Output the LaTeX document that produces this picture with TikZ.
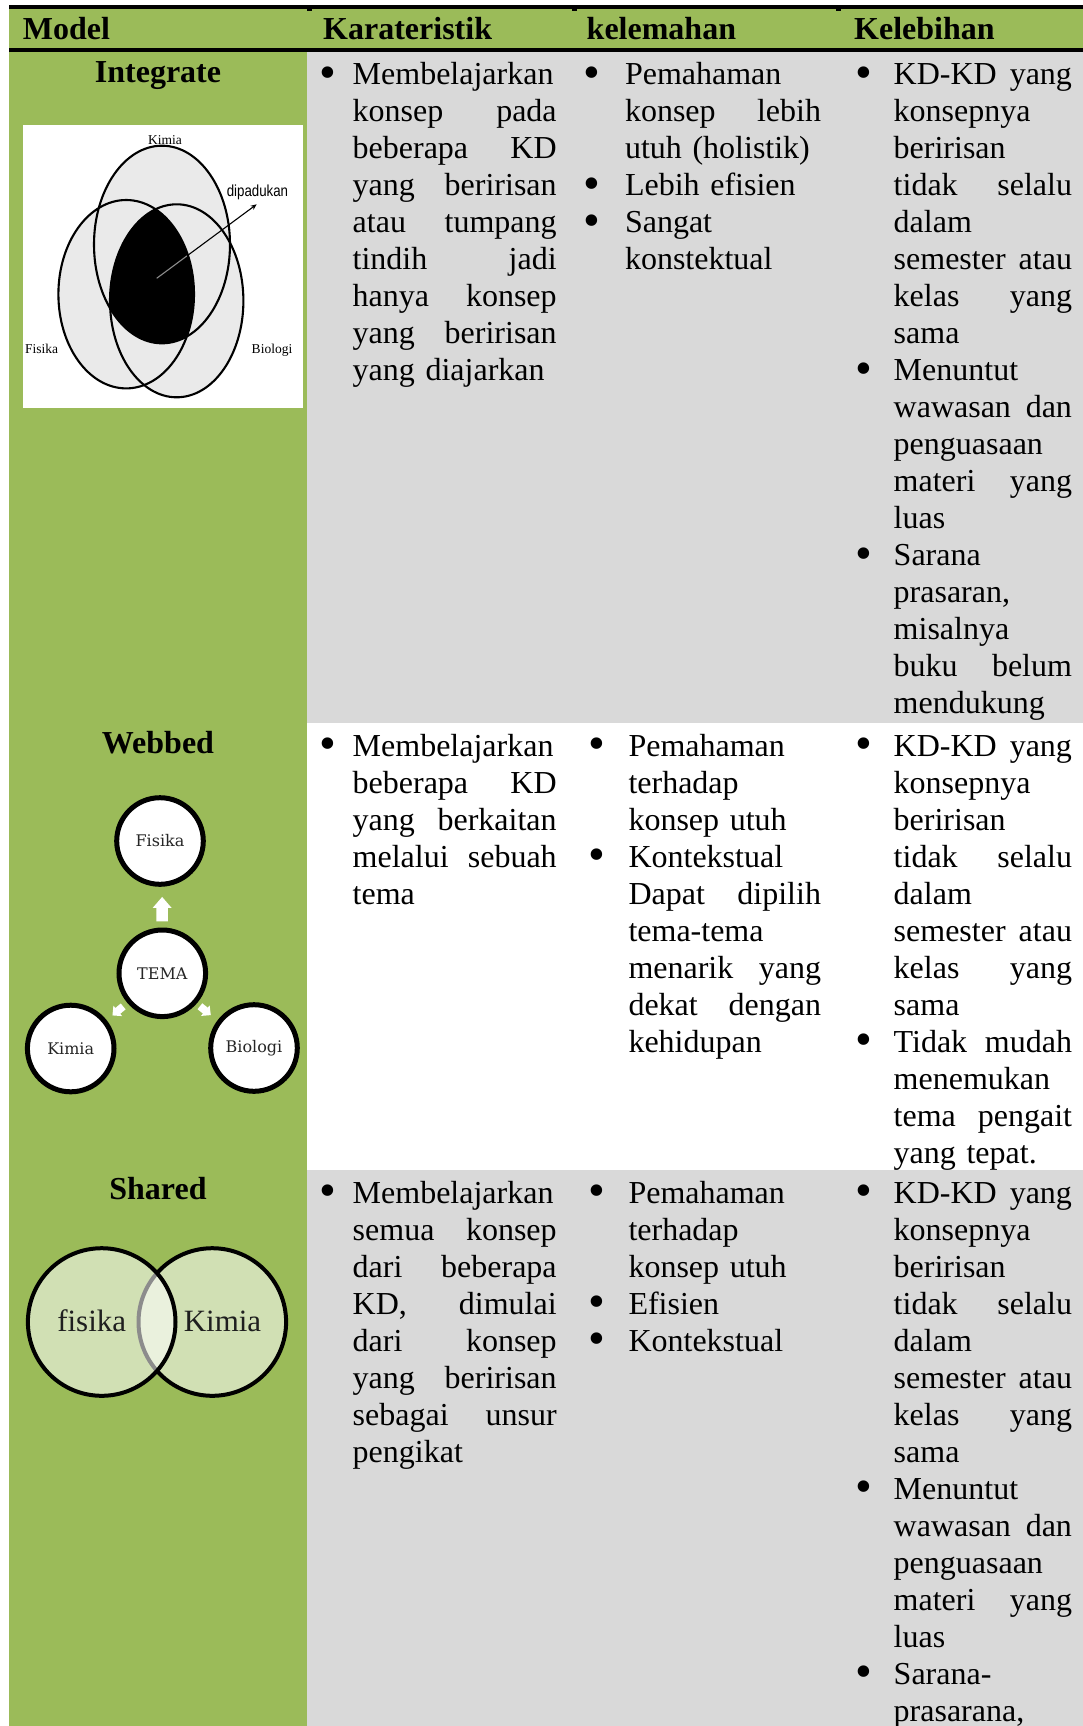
\documentclass[tikz,border=0pt]{standalone}
\usepackage{fontspec}
\usepackage{graphicx}
\setmainfont{Liberation Serif}
\newfontfamily\slabfont{DejaVu Serif}
\newfontfamily\narrowsans{Liberation Sans}
\usetikzlibrary{calc,arrows.meta}
\definecolor{tgreen}{HTML}{9BBB59}
\definecolor{tgrey}{HTML}{D9D9D9}
\definecolor{vgrey}{HTML}{EAEAEA}
\newlength{\cw}
\newcommand\J[1]{\leavevmode\hbox to \cw{#1}}
\newcommand\bulletglyph{\smash{\raisebox{-3.5pt}{\scalebox{4.8}{\textbullet}}}}
\setlength{\parindent}{0pt}
\begin{document}
\begin{tikzpicture}[x=1pt,y=-1pt,
  body/.style={font=\fontsize{32}{37}\selectfont},
  cell/.style={body,anchor=north west,inner sep=0pt,outer sep=0pt,align=left,
    text width=#1,execute at begin node={\setlength{\cw}{#1}}},
  hdr/.style={anchor=base west,inner sep=0pt,font=\fontsize{32}{37}\selectfont\bfseries},
  ttl/.style={anchor=base,inner sep=0pt,font=\fontsize{32}{37}\selectfont\bfseries},
  bul/.style={font=\fontsize{10}{10}\selectfont,anchor=base,inner sep=0pt},
  vlab/.style={anchor=base,inner sep=0pt,font=\fontsize{13.5}{15}\selectfont},
  wcirc/.style={circle,draw=black,line width=5pt,fill=white,minimum size=86.6pt,inner sep=0pt,
    font=\slabfont\fontsize{16}{18}\selectfont,text=black!85},
  vline/.style={line width=2.1pt},
  bigarrow/.pic={\fill[white] (-12.2,-5.7) -- (1.2,-5.7) -- (1.2,-9.5) -- (12.2,0) -- (1.2,9.5) -- (1.2,5.7) -- (-12.2,5.7) -- cycle;},
  smallarrow/.pic={\fill[white] (-7,-3.8) -- (0,-3.8) -- (0,-6.8) -- (7,0) -- (0,6.8) -- (0,3.8) -- (-7,3.8) -- cycle;}
]
\useasboundingbox (0,0) rectangle (1083,1726);
\fill[white] (0,0) rectangle (1083,1726);
% header
\fill[black] (9,5) rectangle (1083,9.5);
\fill[tgreen] (9,9.5) rectangle (1083,47.7);
\fill[black] (9,47.7) rectangle (1083,52.3);
\foreach \tx in {306.7,571.7,836}{
  \fill[black] (\tx,9) rectangle ({\tx+5},11.5);
  \fill[black] (\tx,52) rectangle ({\tx+5},53.5);
}
% row backgrounds
\fill[tgreen] (9,52.3) rectangle (306.7,1726);
\fill[tgrey] (306.7,52.3) rectangle (1083,722.7);
\fill[tgrey] (306.7,1170) rectangle (1083,1726);
% header texts
\node[hdr] (hModel) at (22.7,40) {Model};
\node[hdr] (hKar) at (323,40) {Karateristik};
\node[hdr] (hKel) at (586.5,40) {kelemahan};
\node[hdr] (hLeb) at (854,40) {Kelebihan};
% titles
\node[ttl] (tInt) at (158,82.5) {Integrate};
\node[ttl] (tWeb) at (158,753.5) {Webbed};
\node[ttl] (tSha) at (158,1199.5) {Shared};

% ---------- Integrate venn ----------
\fill[white] (22.7,125) rectangle (302.7,407.7);
\fill[vgrey] (162,244.5) ellipse [x radius=68pt,y radius=98.8pt];
\fill[vgrey] (126.2,294.2) ellipse [x radius=67.8pt,y radius=94.2pt];
\fill[vgrey] (176.7,300.8) ellipse [x radius=66.7pt,y radius=96.5pt];
\coordinate (vc) at (156.7,278.3);
\coordinate (ve) at (256.7,204.3);
\draw[line width=1.1pt,-{Stealth[length=6pt,width=5pt]}] (vc) -- (ve);
\begin{scope}
  \clip (162,244.5) ellipse [x radius=68pt,y radius=98.8pt];
  \clip (126.2,294.2) ellipse [x radius=67.8pt,y radius=94.2pt];
  \fill[black] (176.7,300.8) ellipse [x radius=66.7pt,y radius=96.5pt];
  \draw[line width=1.1pt,black!45] (vc) -- (ve);
\end{scope}
\draw[vline] (162,244.5) ellipse [x radius=68pt,y radius=98.8pt];
\draw[vline] (126.2,294.2) ellipse [x radius=67.8pt,y radius=94.2pt];
\draw[vline] (176.7,300.8) ellipse [x radius=66.7pt,y radius=96.5pt];
\node[vlab] (vKim) at (165,144.5) {Kimia};
\node[vlab] (vFis) at (41.7,353) {Fisika};
\node[vlab] (vBio) at (272,353) {Biologi};
\node[anchor=base,inner sep=0pt,font=\narrowsans\fontsize{16}{18}\selectfont] (vDip) at (257.5,196) {\scalebox{0.83}[1]{dipadukan}};

% ---------- Webbed ----------
\node[wcirc] (fis) at (160,841) {Fisika};
\node[wcirc] (tema) at (162.3,973.3) {TEMA};
\node[wcirc] (kim) at (70.7,1048.5) {Kimia};
\node[wcirc] (bio) at (254,1048) {Biologi};
\pic[rotate=90] at ($(tema)!0.5!(fis)+(1,2)$) {bigarrow};
\pic[rotate=220] at ($(tema)!0.5!(kim)+(1.3,0)$) {smallarrow};
\pic[rotate=-39] at ($(tema)!0.5!(bio)+(-2.8,0)$) {smallarrow};

% ---------- Shared ----------
\begin{scope}
  \clip (15,1235) rectangle (300,1398.5);
  \filldraw[fill=white,fill opacity=0.55,draw=black,line width=4pt] (212.3,1322) circle [radius=73.8pt];
  \filldraw[fill=white,fill opacity=0.55,draw=black,line width=4pt] (101.7,1322) circle [radius=73.8pt];
\end{scope}
\node[anchor=base,inner sep=0pt,font=\fontsize{31}{36}\selectfont,text=black!88] (sFis) at (91.7,1331.7) {fisika};
\node[anchor=base,inner sep=0pt,font=\fontsize{31}{36}\selectfont,text=black!88] (sKim) at (222.5,1331.7) {Kimia};

% ---------- Row 1 texts ----------
\node[cell=204pt] (r1c2) at (352.7,59.1) {\strut Membelajarkan\\
\J{konsep\hfill pada}\\ \J{beberapa\hfill KD}\\ \J{yang\hfill beririsan}\\ \J{atau\hfill tumpang}\\
\J{tindih\hfill jadi}\\ \J{hanya\hfill konsep}\\ \J{yang\hfill beririsan}\\ yang diajarkan};
\node[cell=196pt] (r1c3) at (625,59.1) {\strut Pemahaman\\
\J{konsep\hfill lebih}\\ utuh (holistik)\\ Lebih efisien\\ Sangat\\ konstektual};
\node[cell=178.3pt] (r1c4) at (893.7,59.1) {\strut\J{KD-KD\hfill yang}\\
konsepnya\\ beririsan\\ \J{tidak\hfill selalu}\\ dalam\\ \J{semester\hfill atau}\\
\J{kelas\hfill yang}\\ sama\\ Menuntut\\ \J{wawasan\hfill dan}\\ penguasaan\\
\J{materi\hfill yang}\\ luas\\ Sarana\\ prasaran,\\ misalnya\\ \J{buku\hfill belum}\\ mendukung};

% ---------- Row 2 texts ----------
\node[cell=204pt] (r2c2) at (352.7,730.1) {\strut Membelajarkan\\
\J{beberapa\hfill KD}\\ \J{yang\hfill berkaitan}\\ \J{melalui\hfill sebuah}\\ tema};
\node[cell=192.5pt] (r2c3) at (628.5,730.1) {\strut Pemahaman\\
terhadap\\ konsep utuh\\ Kontekstual\\ \J{Dapat\hfill dipilih}\\ tema-tema\\
\J{menarik\hfill yang}\\ \J{dekat\hfill dengan}\\ kehidupan};
\node[cell=178.3pt] (r2c4) at (893.7,730.1) {\strut\J{KD-KD\hfill yang}\\
konsepnya\\ beririsan\\ \J{tidak\hfill selalu}\\ dalam\\ \J{semester\hfill atau}\\
\J{kelas\hfill yang}\\ sama\\ \J{Tidak\hfill mudah}\\ menemukan\\ \J{tema\hfill pengait}\\ yang tepat.};

% ---------- Row 3 texts ----------
\node[cell=204pt] (r3c2) at (352.7,1177.1) {\strut Membelajarkan\\
\J{semua\hfill konsep}\\ \J{dari\hfill beberapa}\\ \J{KD,\hfill dimulai}\\ \J{dari\hfill konsep}\\
\J{yang\hfill beririsan}\\ \J{sebagai\hfill unsur}\\ pengikat};
\node[cell=192.5pt] (r3c3) at (628.5,1177.1) {\strut Pemahaman\\
terhadap\\ konsep utuh\\ Efisien\\ Kontekstual};
\node[cell=178.3pt] (r3c4) at (893.7,1177.1) {\strut\J{KD-KD\hfill yang}\\
konsepnya\\ beririsan\\ \J{tidak\hfill selalu}\\ dalam\\ \J{semester\hfill atau}\\
\J{kelas\hfill yang}\\ sama\\ Menuntut\\ \J{wawasan\hfill dan}\\ penguasaan\\
\J{materi\hfill yang}\\ luas\\ Sarana-\\ prasarana,};

% ---------- bullets ----------
\foreach \bx/\by [count=\bi] in {328/85, 592/85, 592/196, 592/233, 864/85, 864/381, 864/566,
  328/756, 597/756, 597/867, 864/756, 864/1052,
  328/1203, 597/1203, 597/1314, 597/1351, 864/1203, 864/1499, 864/1684}
  \node[bul] (bul\bi) at (\bx,\by) {\bulletglyph};
\end{tikzpicture}
\end{document}
